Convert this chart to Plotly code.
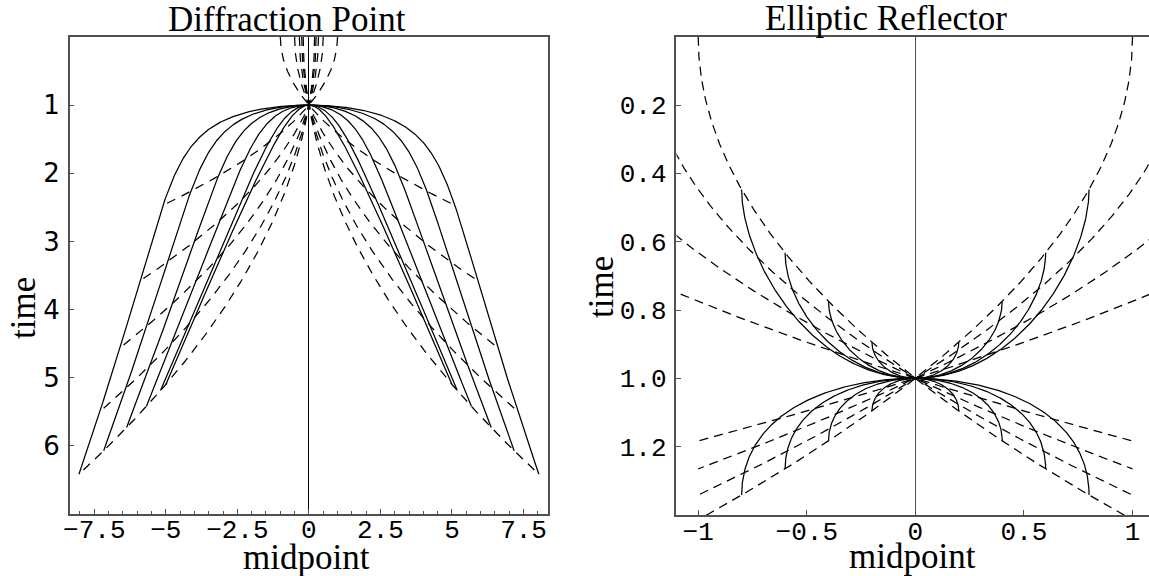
import numpy as np
import plotly.graph_objects as go

# ------------------------------------------------------------------
# Data / parameters
# ------------------------------------------------------------------
# Left panel: point diffractor (offset continuation, NMO-corrected time)
DIFF_OFFSETS = [0, 1, 2, 3, 4, 5]        # half-offsets of the solid fronts
DIFF_RAYS = [1, 2, 3, 4, 5]              # ray labels (zero-offset midpoints)
DIFF_H0SQ = -1.0                         # squared "source offset" of a diffractor
DIFF_T0 = 1.0                            # apex time

# Right panel: elliptic reflector
ELL_OFFSETS = [0.2, 0.4, 0.6, 0.8, 1.2, 1.4, 1.6, 1.8]
ELL_RAYS = [0.4, 0.6, 0.8, 1.0]
ELL_H0 = 1.0
ELL_RAY_XMAX = 1.0

LEFT_XTICKS = [-7.5, -5, -2.5, 0, 2.5, 5, 7.5]
LEFT_XTICKTEXT = ["\u22127.5", "\u22125", "\u22122.5", "0", "2.5", "5", "7.5"]
LEFT_YTICKS = [1, 2, 3, 4, 5, 6]
LEFT_YTICKTEXT = ["1", "2", "3", "4", "5", "6"]
RIGHT_XTICKS = [-1, -0.5, 0, 0.5, 1]
RIGHT_XTICKTEXT = ["\u22121", "\u22120.5", "0", "0.5", "1"]
RIGHT_YTICKS = [0.2, 0.4, 0.6, 0.8, 1.0, 1.2]
RIGHT_YTICKTEXT = ["0.2", "0.4", "0.6", "0.8", "1.0", "1.2"]

TITLES = ["Diffraction Point", "Elliptic Reflector"]
XLABEL = "midpoint"
YLABEL = "time"

# ------------------------------------------------------------------
W, H = 1149, 576
FRAME = "#505050"
DASH_L = "9px,7px"
DASH_R = "9px,6px"
LW = 1.25


def ray_x_on_front(y, h, h0sq):
    """x where ray tau^2 = 1 + y x reaches offset h (root on the side of y)."""
    b = 1.0 / y + y * h0sq
    c = h0sq - h * h
    s = np.sign(y)
    return (-b + s * np.sqrt(b * b - 4 * c)) / 2.0


fig = go.Figure()

# ---- left panel: fronts (solid) ----
ymax = max(DIFF_RAYS)
for h in DIFF_OFFSETS:
    xe = ray_x_on_front(ymax, h, DIFF_H0SQ)
    x = np.linspace(-xe, xe, 601)
    r1 = np.sqrt(DIFF_T0 ** 2 + (x - h) ** 2)
    r2 = np.sqrt(DIFF_T0 ** 2 + (x + h) ** 2)
    t = np.sqrt(((r1 + r2) / 2.0) ** 2 - h * h)
    fig.add_trace(go.Scatter(x=x, y=t, mode="lines", xaxis="x", yaxis="y",
                             line=dict(color="black", width=LW)))

# ---- left panel: rays (dashed) ----
hmax = max(DIFF_OFFSETS)
for y in DIFF_RAYS:
    for s in (1, -1):
        Y = s * y
        xe = ray_x_on_front(Y, hmax, DIFF_H0SQ)
        te = np.sqrt(1 + Y * xe)
        tau = np.linspace(0, te, 400)
        x = (tau ** 2 - 1) / Y
        fig.add_trace(go.Scatter(x=x, y=tau, mode="lines", xaxis="x", yaxis="y",
                                 line=dict(color="black", width=LW, dash=DASH_L)))

# ---- right panel: fronts (solid) ----
th = np.linspace(0, np.pi, 300)
for h in ELL_OFFSETS:
    u = 1 + (h / ELL_H0 - 1) * (1 - np.cos(th)) / 2.0
    xx = np.sqrt(np.clip((u - 1) * (h * h - ELL_H0 ** 2 * u) / u, 0, None))
    x = np.concatenate([-xx[::-1], xx[1:]])
    tau = np.sqrt(np.concatenate([u[::-1], u[1:]]))
    fig.add_trace(go.Scatter(x=x, y=tau, mode="lines", xaxis="x2", yaxis="y2",
                             line=dict(color="black", width=LW)))

# ---- right panel: rays (dashed) ----
for y in ELL_RAYS:
    for s in (1, -1):
        Y = s * y
        xe = s * ELL_RAY_XMAX
        te = np.sqrt(1 + Y * xe)
        tau = np.linspace(0, te, 400)
        x = (tau ** 2 - 1) / Y
        fig.add_trace(go.Scatter(x=x, y=tau, mode="lines", xaxis="x2", yaxis="y2",
                                 line=dict(color="black", width=LW, dash=DASH_R)))

mono = dict(family="Liberation Mono, Courier New, monospace", size=26, color="black")
sans = dict(family="DejaVu Sans, sans-serif", size=26, color="black")
serif = dict(family="Liberation Serif, Times New Roman, serif", size=35, color="black")

common_axis = dict(showline=True, linecolor=FRAME, linewidth=1.5, ticks="inside",
                   ticklen=5, tickwidth=1, tickcolor=FRAME, showgrid=False,
                   tickmode="array")

fig.update_layout(
    width=W, height=H, margin=dict(l=0, r=0, t=0, b=0),
    paper_bgcolor="white", plot_bgcolor="white", showlegend=False,
    xaxis=dict(domain=[64 / W, 545 / W], range=[-8.36, 8.36], anchor="y",
               mirror=True, tickvals=LEFT_XTICKS, ticktext=LEFT_XTICKTEXT,
               tickfont=mono, zeroline=True, zerolinecolor="black", zerolinewidth=1.2,
               ticklabelstandoff=-9,
               minor=dict(ticks="inside", ticklen=3, tickcolor=FRAME, tickwidth=1,
                          tickmode="linear", tick0=0, dtick=0.5, showgrid=False),
               **common_axis),
    yaxis=dict(domain=[1 - 514 / H, 1 - 37 / H], range=[7, 0], anchor="x",
               mirror=True, tickvals=LEFT_YTICKS, ticktext=LEFT_YTICKTEXT,
               tickfont=sans, zeroline=False, ticklabelstandoff=3, **common_axis),
    xaxis2=dict(domain=[674 / W, 1.0], range=[-1.1, -1.1 + (W - 674) / 218.3], anchor="y2",
                mirror=True, tickvals=RIGHT_XTICKS, ticktext=RIGHT_XTICKTEXT,
                tickfont=mono, zeroline=True, zerolinecolor=FRAME, zerolinewidth=1.4,
                ticklabelstandoff=-8, **common_axis),
    yaxis2=dict(domain=[1 - 515 / H, 1 - 36.7 / H], range=[1.4, 0], anchor="x2",
                mirror=False, tickvals=RIGHT_YTICKS, ticktext=RIGHT_YTICKTEXT,
                tickfont=mono, zeroline=False, ticklabelstandoff=3, **common_axis),
)

ann = [
    dict(text=TITLES[0], x=282 / W, y=1 - 20 / H),
    dict(text=TITLES[1], x=885 / W, y=1 - 18 / H),
    dict(text=XLABEL, x=302 / W, y=1 - 557 / H),
    dict(text=XLABEL, x=911 / W, y=1 - 556 / H),
    dict(text=YLABEL, x=17 / W, y=1 - 308 / H, textangle=-90),
    dict(text=YLABEL, x=598 / W, y=1 - 287 / H, textangle=-90),
]
for a in ann:
    fig.add_annotation(xref="paper", yref="paper", showarrow=False,
                       xanchor="center", yanchor="middle", font=serif, **a)

fig.write_html("out.html")
